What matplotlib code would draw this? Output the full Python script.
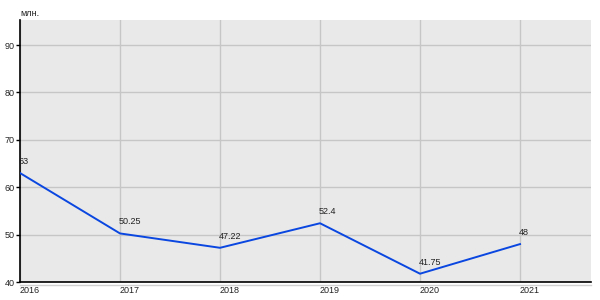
import matplotlib
matplotlib.use('Agg')
import matplotlib.pyplot as plt

plt.rcParams['font.family'] = ['Liberation Sans', 'DejaVu Sans']

# данные
years = [2016, 2017, 2018, 2019, 2020, 2021]
values = [63, 50.25, 47.22, 52.4, 41.75, 48]
labels = ['63', '50.25', '47.22', '52.4', '41.75', '48']
yticks = [40, 50, 60, 70, 80, 90]

fig = plt.figure(figsize=(6, 3), dpi=100)
ax = fig.add_axes([20 / 600, 18 / 300, 571 / 600, 262 / 300])
ax.set_facecolor('#e9e9e9')

ax.plot(years, values, color='#0a46e0', lw=1.4, zorder=3)
for x, y, t in zip(years, values, labels):
    ax.annotate(t, (x, y), xytext=(-1, 5), textcoords='offset points',
                fontsize=6.5, ha='left', va='bottom', color='#222222')

ax.set_xlim(2016, 2021.71)
ax.set_ylim(40, 95.3)
ax.set_xticks(years)
ax.set_xticklabels([str(y) for y in years], ha='left')
ax.set_yticks(yticks)
ax.grid(True, color='#c6c6c6', lw=1)
ax.set_axisbelow(True)

ax.tick_params(axis='x', length=0, pad=3, labelsize=6.5, colors='#222222')
ax.tick_params(axis='y', length=3, width=1, pad=1, labelsize=6.5, colors='#222222')
ax.tick_params(axis='y', color='black')

for s in ['top', 'right']:
    ax.spines[s].set_visible(False)
ax.spines['left'].set_color('black')
ax.spines['bottom'].set_color('black')
ax.spines['left'].set_linewidth(1.2)
ax.spines['bottom'].set_linewidth(1.2)

# светлая линия под осью
fig.add_artist(plt.Line2D([20 / 600, 591 / 600], [15 / 300, 15 / 300],
                          color='#d0d0d0', lw=1))

fig.text(20 / 600, 287 / 300, 'млн.', fontsize=6.5, ha='left', va='center', color='#222222')

fig.savefig('out.png', dpi=100)
